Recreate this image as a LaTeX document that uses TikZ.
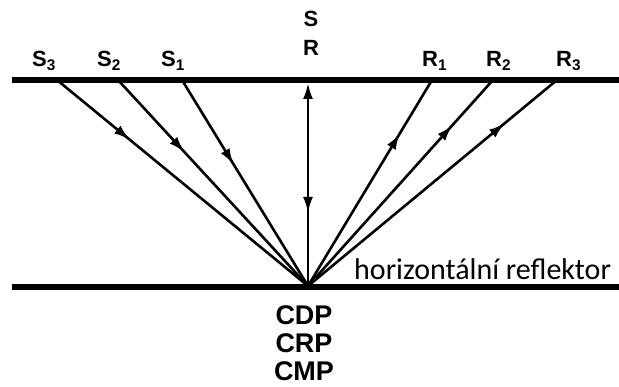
\documentclass[tikz,border=0pt]{standalone}
\usepackage{fontspec}
\setmainfont{Liberation Sans}
\newfontfamily\reflfont{Carlito}
\usetikzlibrary{arrows.meta,decorations.markings}

\begin{document}
\begin{tikzpicture}[x=1pt, y=-1pt,
  surface/.style={line width=5.5pt},
  ray/.style={line width=2.6pt},
  flow/.style={ray, postaction={decorate}, decoration={markings,
    mark=at position #1 with {\arrow{Latex[length=16pt,width=10pt]}}}},
  lbl/.style={font=\fontsize{22}{29}\selectfont\bfseries, inner sep=0pt}]
  \useasboundingbox (0,0) rectangle (619,387);
  \coordinate (tl) at (12,80);
  \coordinate (tr) at (619,80);
  \coordinate (bl) at (12,287);
  \coordinate (br) at (619,287);
  \draw[surface] (tl) -- (tr);
  \draw[surface] (bl) -- (br);
  \coordinate (cdp) at (308,286);
  \coordinate (sr) at (308,83);
  \coordinate (s3) at (57,80);
  \coordinate (s2) at (118,80);
  \coordinate (s1) at (182,80);
  \coordinate (r1) at (432,80);
  \coordinate (r2) at (493,80);
  \coordinate (r3) at (557,80);
  % rays
  \draw[flow=0.29] (s3) -- (cdp);
  \draw[flow=0.35] (s2) -- (cdp);
  \draw[flow=0.41] (s1) -- (cdp);
  \draw[flow=0.74] (cdp) -- (r1);
  \draw[flow=0.78] (cdp) -- (r2);
  \draw[flow=0.79] (cdp) -- (r3);
  \draw[flow=0.64, {Latex[length=16pt,width=10pt]}-] (sr) -- (cdp);
  % labels
  \node[lbl, align=center, anchor=north] (SR) at (311,11) {S\\R};
  \node[lbl, anchor=base west] (S3) at (32,67) {S\textsubscript{3}};
  \node[lbl, anchor=base west] (S2) at (97,67) {S\textsubscript{2}};
  \node[lbl, anchor=base west] (S1) at (161,67) {S\textsubscript{1}};
  \node[lbl, anchor=base west] (R1) at (422,67) {R\textsubscript{1}};
  \node[lbl, anchor=base west] (R2) at (486,67) {R\textsubscript{2}};
  \node[lbl, anchor=base west] (R3) at (556,67) {R\textsubscript{3}};
  \node[font=\fontsize{27}{28}\selectfont\bfseries, align=center,
    anchor=north, inner sep=0pt] (CDP) at (304,305) {CDP\\CRP\\CMP};
  \node[font=\reflfont\fontsize{30}{36}\selectfont, anchor=base west,
    inner sep=0pt] (refl) at (354,280) {horizontální reflektor};
\end{tikzpicture}
\end{document}
